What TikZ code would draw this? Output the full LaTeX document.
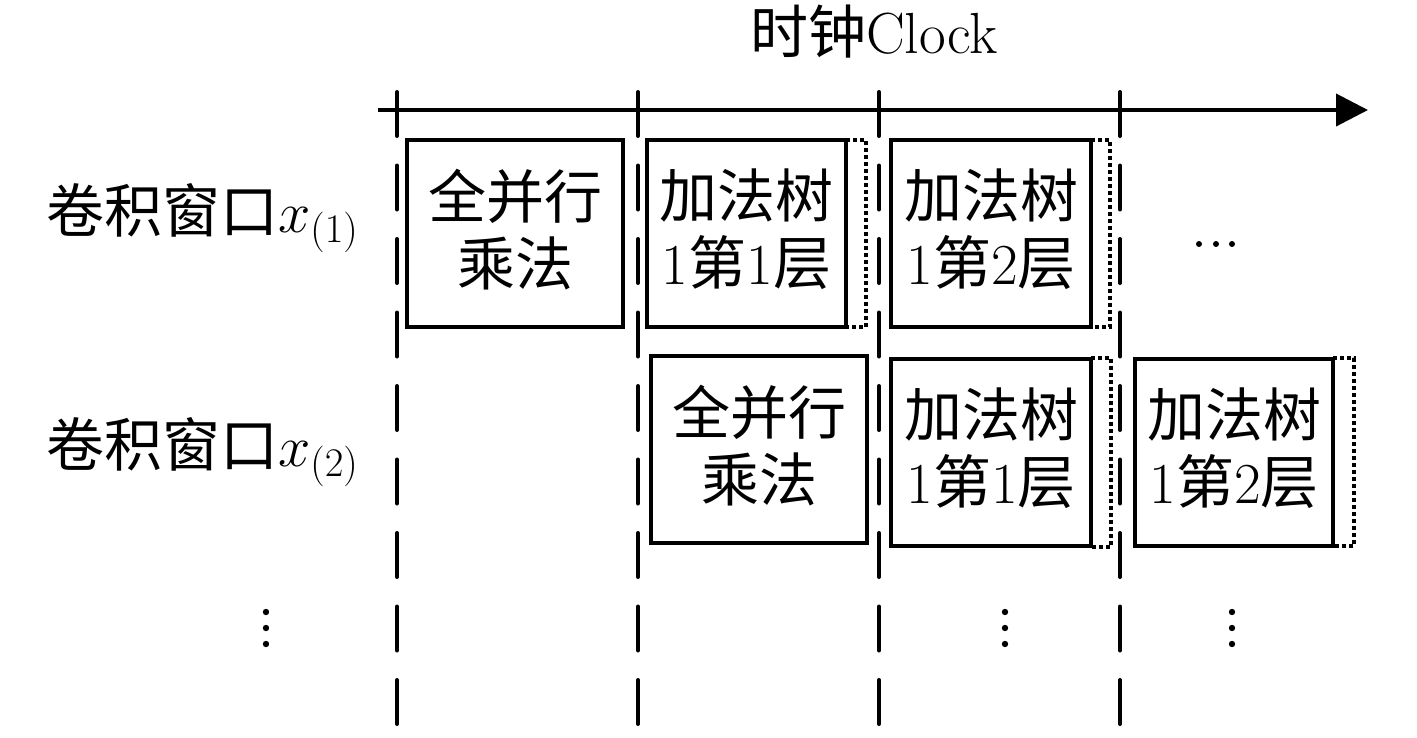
\documentclass[tikz,border=0pt]{standalone}
\usepackage{fix-cm}
\usepackage{fontspec}
\newfontfamily\cjk{Noto Sans CJK SC}
\usetikzlibrary{arrows.meta}
\begin{document}
\begin{tikzpicture}[x=1pt,y=-1pt,
  every node/.style={font=\fontsize{58}{67}\selectfont, inner sep=0pt},
  stagebox/.style={draw, line width=4pt, align=center, minimum width=#1, minimum height=187},
  dotline/.style={line width=4pt, dash pattern=on 4pt off 3pt},
  vdash/.style={line width=4pt, line cap=round, dash pattern=on 44pt off 29.5pt},
  axisline/.style={line width=4pt, -{Triangle[length=32pt,width=32pt]}},
  lbl/.style={anchor=base west}]
\useasboundingbox (0,0) rectangle (1417,737);
% time grid
\foreach \x/\n in {397/t1,638/t2,879/t3,1120/t4}{
  \coordinate (\n top) at (\x,92);
  \coordinate (\n bot) at (\x,737);
  \draw[vdash] (\n top) -- (\n bot);
}
\coordinate (axstart) at (378,110);
\coordinate (axend) at (1368,110);
\draw[axisline] (axstart) -- (axend);
\node[anchor=base] (title) at (874,53) {{\cjk 时钟}Clock};
% row labels
\node[lbl] (lab1) at (46,232) {{\cjk 卷积窗口}$x_{(1)}$};
\node[lbl] (lab2) at (46,466) {{\cjk 卷积窗口}$x_{(2)}$};
% row 1
\node[stagebox=216] (A) at (515,233.5) {};
\node[yshift=4pt, align=center] (Atxt) at (A.center) {\cjk 全并行\\\cjk 乘法};
\draw[dotline] (846,140) -- (866,140) -- (866,327) -- (846,327);
\node[stagebox=199] (B) at (746.5,233.5) {};
\node[yshift=4pt, align=center] (Btxt) at (B.center) {{\cjk 加法树}\\1{\cjk 第}1{\cjk 层}};
\draw[dotline] (1091,140) -- (1110,140) -- (1110,327) -- (1091,327);
\node[stagebox=200] (C) at (991,233.5) {};
\node[yshift=4pt, align=center] (Ctxt) at (C.center) {{\cjk 加法树}\\1{\cjk 第}2{\cjk 层}};
\fill (1199,244) circle (3pt) (1216,244) circle (3pt) (1232,244) circle (3pt);
% row 2
\node[stagebox=216] (D) at (759,449.5) {};
\node[yshift=4pt, align=center] (Dtxt) at (D.center) {\cjk 全并行\\\cjk 乘法};
\draw[dotline] (1091,358) -- (1111,358) -- (1111,547) -- (1091,547);
\node[stagebox=200] (E) at (991,452.5) {};
\node[yshift=4pt, align=center] (Etxt) at (E.center) {{\cjk 加法树}\\1{\cjk 第}1{\cjk 层}};
\draw[dotline] (1333,358) -- (1354,358) -- (1354,546) -- (1333,546);
\node[stagebox=198] (F) at (1234,452) {};
\node[yshift=4pt, align=center] (Ftxt) at (F.center) {{\cjk 加法树}\\1{\cjk 第}2{\cjk 层}};
% vertical ellipses
\foreach \x in {266,1005,1232}{
  \fill (\x,612) circle (3.2pt) (\x,628) circle (3.2pt) (\x,644) circle (3.2pt);
}
\end{tikzpicture}
\end{document}
